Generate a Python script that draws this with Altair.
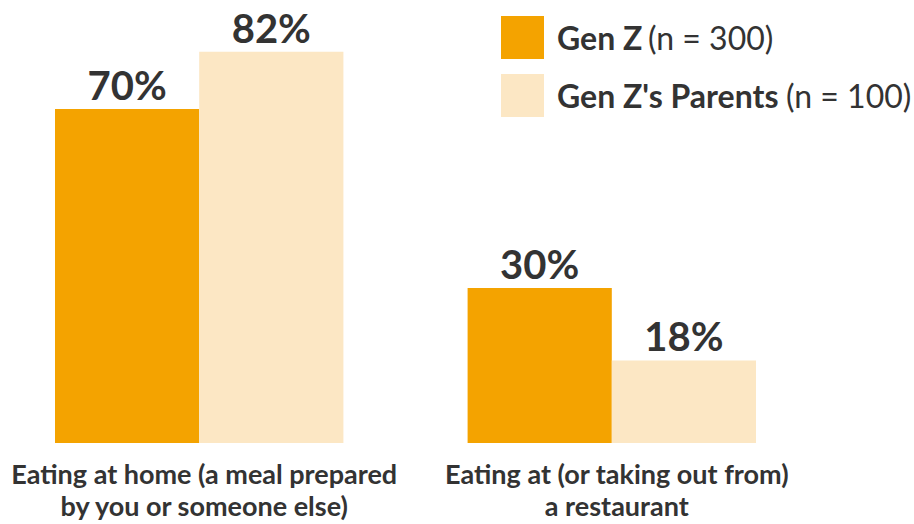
import altair as alt
import pandas as pd

categories = [
    "Eating at home (a meal prepared|by you or someone else)",
    "Eating at (or taking out from)|a restaurant",
]
series = ["Gen Z", "Gen Z's Parents"]
sample_sizes = ["(n = 300)", "(n = 100)"]
gen_z_values = [70, 32.5]
parents_values = [82, 17.3]
gen_z_labels = ["70%", "30%"]
parents_labels = ["82%", "18%"]
colors = ["#F4A300", "#FCE7C4"]
text_color = "#333333"
FONT = "Lato"

rows = []
for i, c in enumerate(categories):
    rows.append({"category": c, "series": series[0], "value": gen_z_values[i], "label": gen_z_labels[i]})
    rows.append({"category": c, "series": series[1], "value": parents_values[i], "label": parents_labels[i]})
df = pd.DataFrame(rows)

x_enc = alt.X(
    "category:N",
    sort=categories,
    scale=alt.Scale(paddingInner=0.301, paddingOuter=0),
    axis=alt.Axis(
        title=None,
        labelExpr="split(datum.value, '|')",
        labelFont=FONT,
        labelFontSize=27,
        labelFontWeight="bold",
        labelColor=text_color,
        labelLineHeight=32,
        labelPadding=19,
        labelLimit=600,
        labelAngle=0,
        labelOffset=5,
        ticks=False,
        tickSize=0,
        domain=False,
        grid=False,
    ),
)
xoff_enc = alt.XOffset("series:N", sort=series, scale=alt.Scale(paddingInner=0, paddingOuter=0))
y_enc = alt.Y("value:Q", scale=alt.Scale(domain=[0, 92], nice=False, zero=True), axis=None)

base = alt.Chart(df).encode(x=x_enc, xOffset=xoff_enc, y=y_enc)

bars = base.mark_bar(cornerRadius=0).encode(
    color=alt.Color("series:N", scale=alt.Scale(domain=series, range=colors), legend=None)
)
labels = base.mark_text(
    baseline="alphabetic", dy=-9, font=FONT, fontSize=40, fontWeight="bold", color=text_color
).encode(text="label:N")

legend_layers = []
row_tops = [12, 70]
n_x = [593, 731]
for i, s in enumerate(series):
    ldf = pd.DataFrame({"series": [s], "n": [sample_sizes[i]]})
    top = row_tops[i]
    sq = alt.Chart(ldf).mark_rect(color=colors[i]).encode(
        x=alt.value(446), x2=alt.value(489), y=alt.value(top), y2=alt.value(top + 43)
    )
    t1 = alt.Chart(ldf).mark_text(
        align="left", baseline="alphabetic", font=FONT, fontSize=32, fontWeight="bold", color=text_color
    ).encode(x=alt.value(502), y=alt.value(top + 33.5), text="series:N")
    t2 = alt.Chart(ldf).mark_text(
        align="left", baseline="alphabetic", font=FONT, fontSize=32, fontWeight="normal", color=text_color
    ).encode(x=alt.value(n_x[i]), y=alt.value(top + 33.5), text="n:N")
    legend_layers += [sq, t1, t2]

chart = alt.layer(bars, labels, *legend_layers).properties(
    width=701,
    height=439,
    padding={"left": 55, "top": 4, "right": 158, "bottom": 81},
    autosize=alt.AutoSizeParams(type="none"),
    background="white",
).configure_view(stroke=None)

chart.save("out.html", embed_options={"renderer": "svg", "actions": False})
